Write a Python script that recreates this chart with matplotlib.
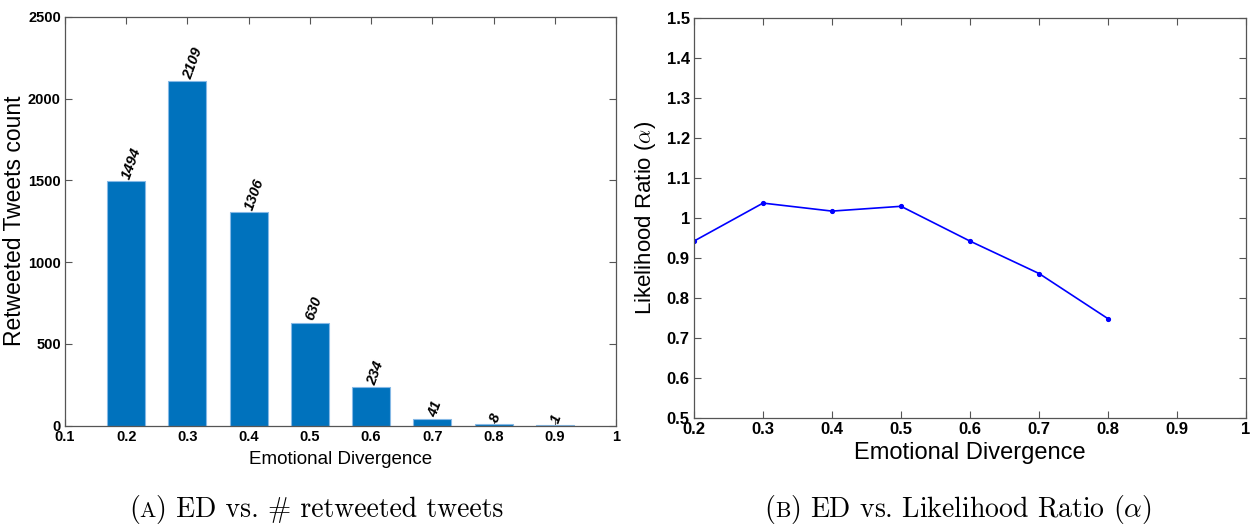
import matplotlib
matplotlib.use("Agg")
import matplotlib.pyplot as plt

plt.rcParams["font.family"] = ["Liberation Sans", "DejaVu Sans"]
plt.rcParams["mathtext.fontset"] = "cm"

# data
ed_bins = [0.2, 0.3, 0.4, 0.5, 0.6, 0.7, 0.8, 0.9]
retweet_counts = [1494, 2109, 1306, 630, 234, 41, 8, 1]

ed_points = [0.2, 0.3, 0.4, 0.5, 0.6, 0.7, 0.8]
likelihood = [0.943, 1.038, 1.018, 1.030, 0.943, 0.862, 0.749]

left_xticks = [0.1, 0.2, 0.3, 0.4, 0.5, 0.6, 0.7, 0.8, 0.9, 1.0]
left_xlabels = ["0.1", "0.2", "0.3", "0.4", "0.5", "0.6", "0.7", "0.8", "0.9", "1"]
left_yticks = [0, 500, 1000, 1500, 2000, 2500]
right_xticks = [0.2, 0.3, 0.4, 0.5, 0.6, 0.7, 0.8, 0.9, 1.0]
right_xlabels = ["0.2", "0.3", "0.4", "0.5", "0.6", "0.7", "0.8", "0.9", "1"]
right_yticks = [0.5, 0.6, 0.7, 0.8, 0.9, 1.0, 1.1, 1.2, 1.3, 1.4, 1.5]
right_ylabels = ["0.5", "0.6", "0.7", "0.8", "0.9", "1", "1.1", "1.2", "1.3", "1.4", "1.5"]

W, H = 1250, 527
SPINE = "#555555"


def style_axes(ax, labelsize):
    ax.set_axisbelow(True)
    ax.tick_params(direction="in", top=True, right=True, length=5, width=0.8,
                   color=SPINE, labelsize=labelsize, pad=3)
    for sp in ax.spines.values():
        sp.set_color(SPINE)
        sp.set_linewidth(0.9)
    for lab in ax.get_xticklabels() + ax.get_yticklabels():
        lab.set_fontweight("bold")


def caption(fig, xc, y, letter, rest, size):
    # "(A) ..." with the letter in small caps, drawn in pieces
    r = fig.canvas.get_renderer()
    fam = ["cmr10", "DejaVu Serif"]
    parts = [("(", size), (letter, size * 0.78), (rest, size)]
    texts = [fig.text(0, y, s, fontsize=fs, family=fam, va="baseline") for s, fs in parts]
    widths = [t.get_window_extent(r).width for t in texts]
    x = xc * W - sum(widths) / 2
    for t, w in zip(texts, widths):
        t.set_x(x / W)
        x += w


fig = plt.figure(figsize=(W / 100, H / 100), dpi=100)

# left: bar chart
ax1 = fig.add_axes([65 / W, (H - 425.5) / H, 551 / W, 408.5 / H])
ax1.bar(ed_bins, retweet_counts, width=0.062, color="#0072BD",
        edgecolor="#86b9e6", linewidth=0.8, zorder=2)
for x, c in zip(ed_bins, retweet_counts):
    ax1.text(x, c + 15, str(c), rotation=70, rotation_mode="anchor",
             ha="left", va="center", fontsize=10.5, fontweight="bold",
             fontstyle="italic", zorder=3)
ax1.set_xlim(0.1, 1.0)
ax1.set_ylim(0, 2500)
ax1.set_xticks(left_xticks)
ax1.set_xticklabels(left_xlabels)
ax1.set_yticks(left_yticks)
ax1.set_xlabel("Emotional Divergence", fontsize=13.5)
ax1.set_ylabel("Retweeted Tweets count", fontsize=16.5)
ax1.xaxis.set_label_coords(0.5, -0.063)
ax1.yaxis.set_label_coords(-0.07, 0.5)
style_axes(ax1, 10.5)

# right: likelihood ratio line
ax2 = fig.add_axes([694 / W, (H - 418.3) / H, 552 / W, 400 / H])
ax2.plot(ed_points, likelihood, color="#0000ff", linewidth=1.2,
         marker=".", markersize=5.5)
ax2.set_xlim(0.2, 1.0)
ax2.set_ylim(0.5, 1.5)
ax2.set_xticks(right_xticks)
ax2.set_xticklabels(right_xlabels)
ax2.set_yticks(right_yticks)
ax2.set_yticklabels(right_ylabels)
ax2.set_xlabel("Emotional Divergence", fontsize=17)
ax2.set_ylabel(r"Likelihood Ratio ($\alpha$)", fontsize=16)
ax2.xaxis.set_label_coords(0.5, -0.058)
ax2.yaxis.set_label_coords(-0.066, 0.5)
style_axes(ax2, 12)

caption(fig, 316 / W, (H - 517) / H, "A", ") ED vs. # retweeted tweets", 20)
caption(fig, 958 / W, (H - 517) / H, "B", r") ED vs. Likelihood Ratio ($\alpha$)", 20)

fig.savefig("out.png", dpi=100)
